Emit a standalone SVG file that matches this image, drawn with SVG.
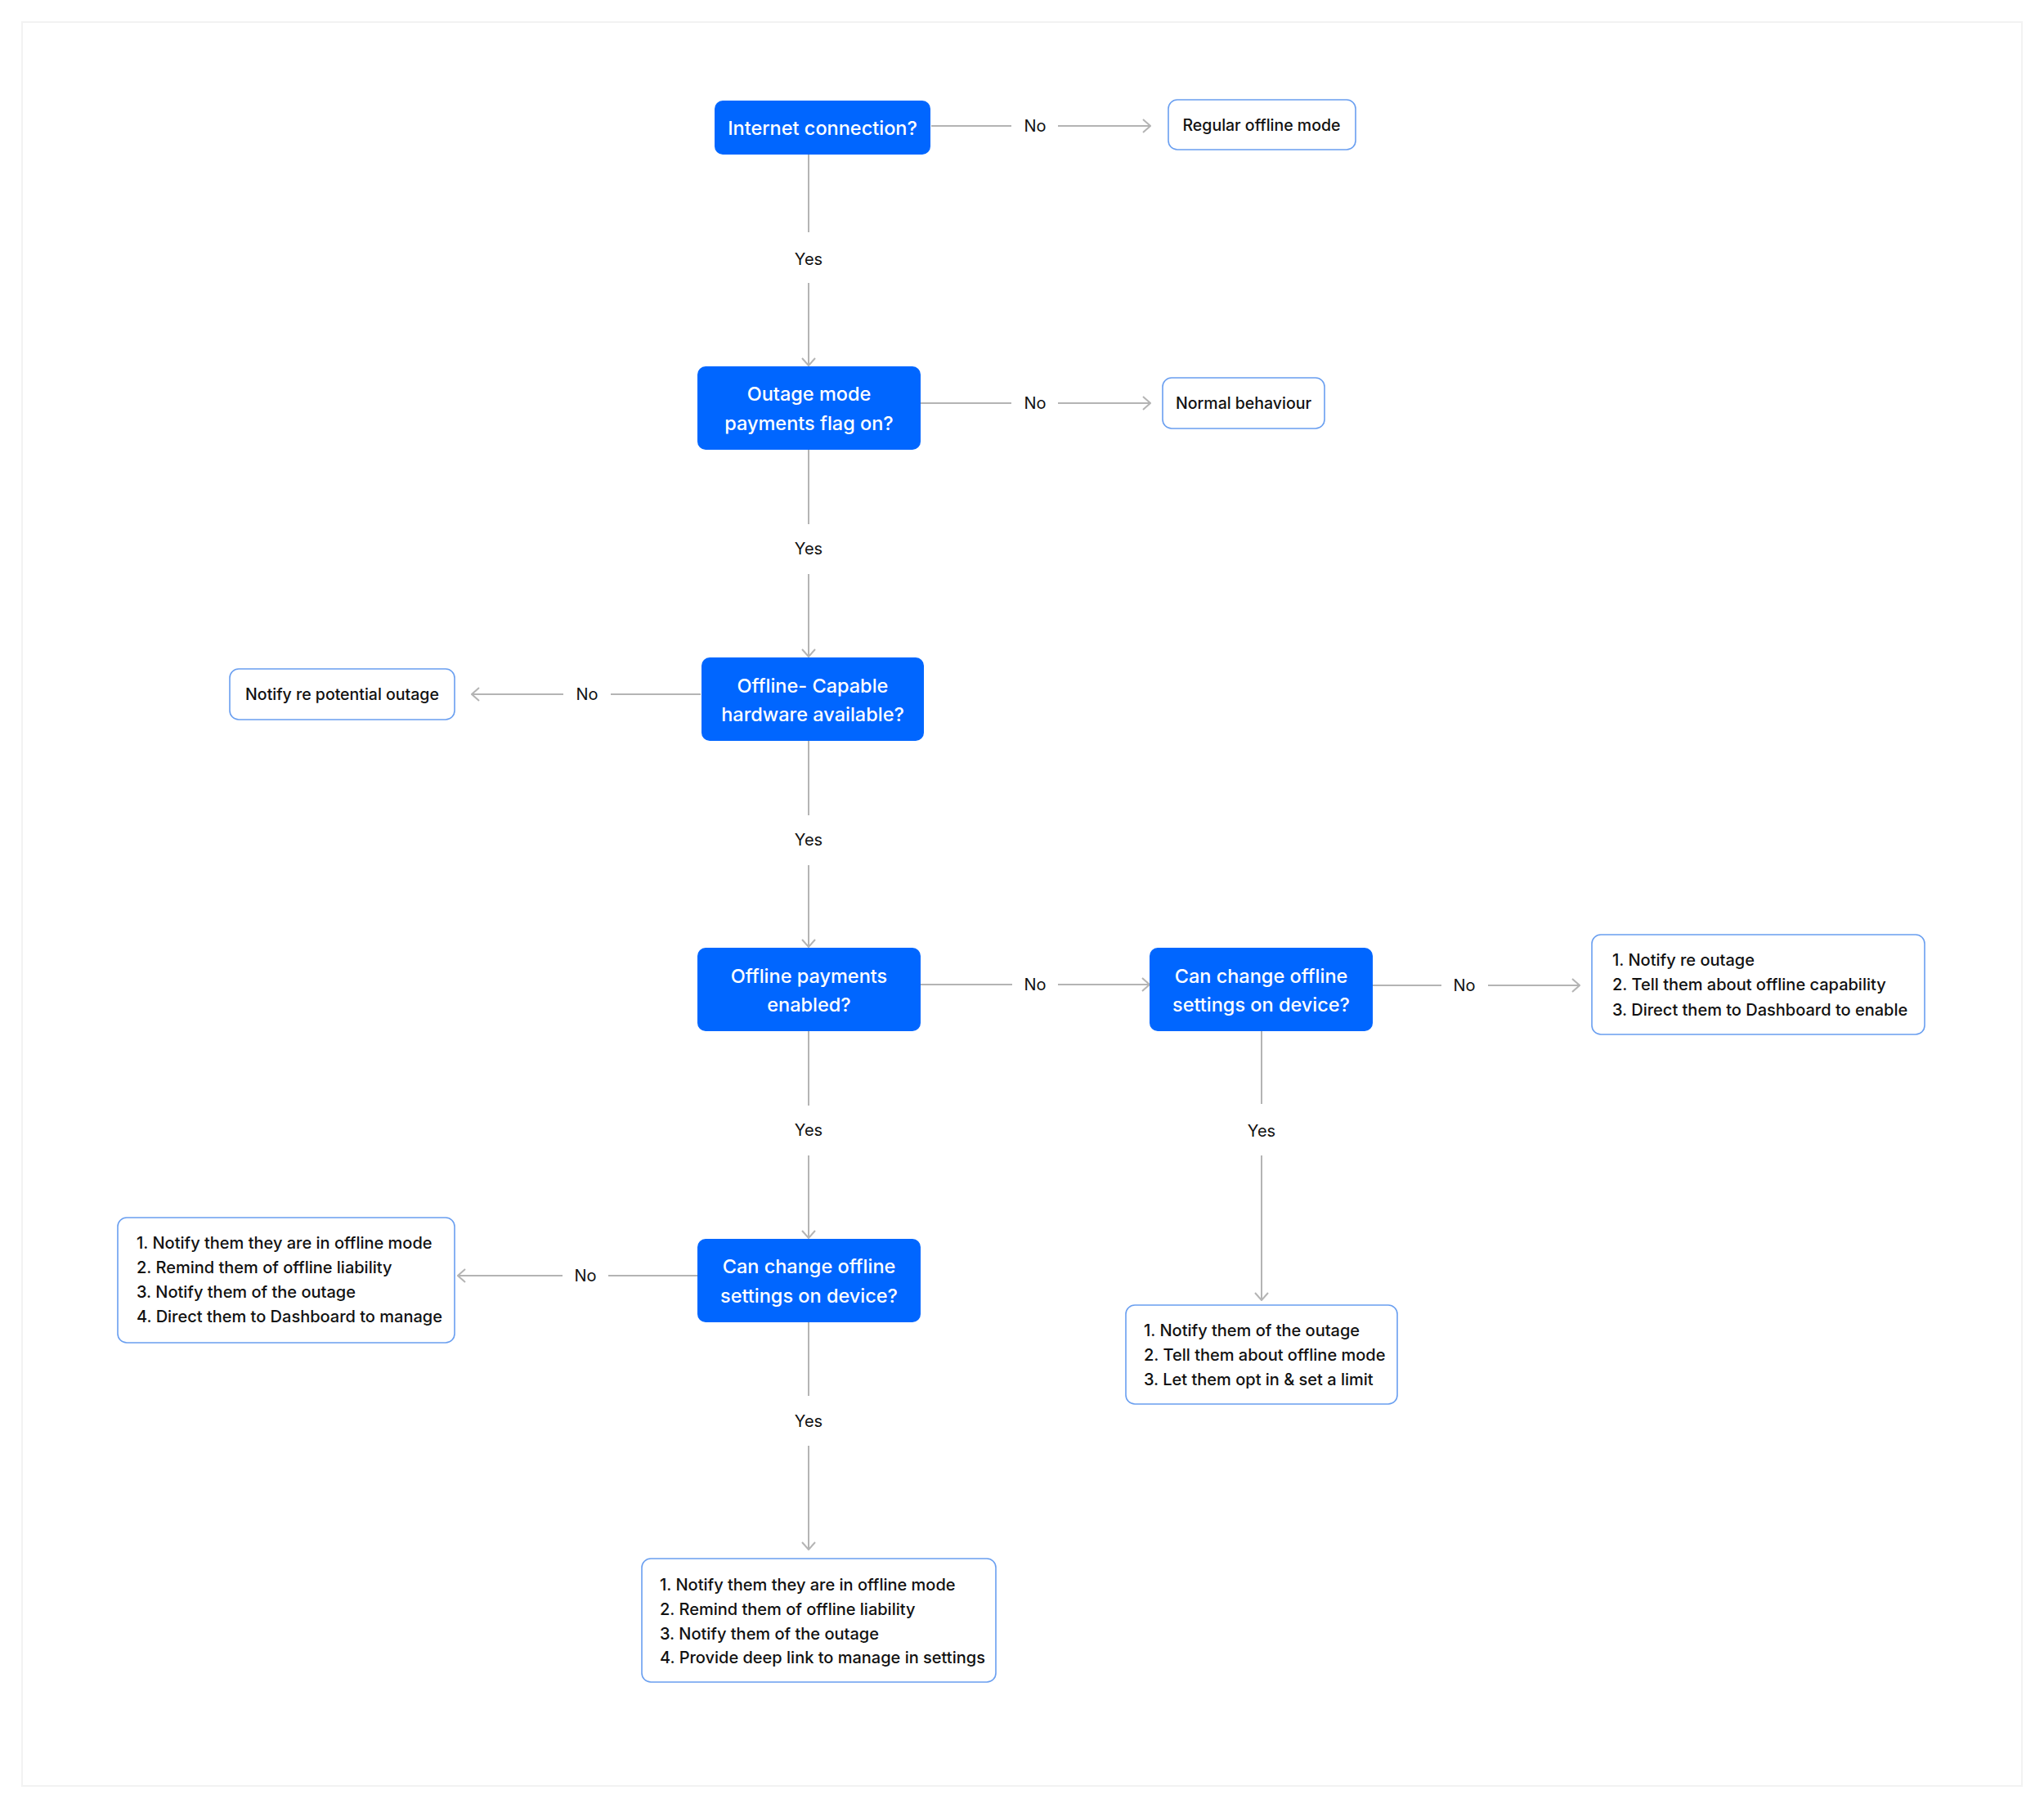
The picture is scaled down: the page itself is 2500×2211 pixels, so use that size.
<svg xmlns="http://www.w3.org/2000/svg" width="2500" height="2211" viewBox="0 0 2500 2211">
<defs>
<style>
.frame{fill:#ffffff;stroke:#f2f2f2;stroke-width:2}
.dec rect{fill:#0066ff}
.dec text{fill:#ffffff;font-family:Inter,"Noto Sans",sans-serif;font-weight:500;font-size:23.5px;text-anchor:middle;dominant-baseline:central}
.out rect{fill:#ffffff;stroke:#6a9ff0;stroke-width:1.6}
.out text{fill:#111111;font-family:Inter,"Noto Sans",sans-serif;font-weight:500;font-size:20px;dominant-baseline:central}
.out text.c{text-anchor:middle;font-size:19.5px}
.edge{stroke:#b4b4b4;stroke-width:2;fill:none}
.lbl{fill:#111111;font-family:Inter,"Noto Sans",sans-serif;font-weight:400;font-size:20px;text-anchor:middle;dominant-baseline:central}
</style>
<marker id="arr" viewBox="0 0 12 18" refX="11" refY="9" markerWidth="12" markerHeight="18" markerUnits="userSpaceOnUse" orient="auto">
<path d="M2,1 L11,9 L2,17" fill="none" stroke="#b4b4b4" stroke-width="2"/>
</marker>
</defs>
<rect class="frame" x="27" y="27" width="2446" height="2157"/>

<g id="connectors">
<path class="edge" d="M1139,154 H1237"/><path class="edge" d="M1294,154 H1407" marker-end="url(#arr)"/>
<text class="lbl" x="1266" y="154">No</text>
<path class="edge" d="M989,189 V284"/><path class="edge" d="M989,346 V447" marker-end="url(#arr)"/>
<text class="lbl" x="989" y="317">Yes</text>
<path class="edge" d="M1126,493 H1237"/><path class="edge" d="M1294,493 H1407" marker-end="url(#arr)"/>
<text class="lbl" x="1266" y="493">No</text>
<path class="edge" d="M989,550 V641"/><path class="edge" d="M989,702 V803" marker-end="url(#arr)"/>
<text class="lbl" x="989" y="671">Yes</text>
<path class="edge" d="M857,849 H747"/><path class="edge" d="M689,849 H577" marker-end="url(#arr)"/>
<text class="lbl" x="718" y="849">No</text>
<path class="edge" d="M989,906 V997"/><path class="edge" d="M989,1058 V1158" marker-end="url(#arr)"/>
<text class="lbl" x="989" y="1027">Yes</text>
<path class="edge" d="M1126,1204 H1238"/><path class="edge" d="M1294,1204 H1406" marker-end="url(#arr)"/>
<text class="lbl" x="1266" y="1204">No</text>
<path class="edge" d="M1679,1205 H1763"/><path class="edge" d="M1820,1205 H1932" marker-end="url(#arr)"/>
<text class="lbl" x="1791" y="1205">No</text>
<path class="edge" d="M1543,1261 V1350"/><path class="edge" d="M1543,1413 V1590" marker-end="url(#arr)"/>
<text class="lbl" x="1543" y="1383">Yes</text>
<path class="edge" d="M989,1261 V1352"/><path class="edge" d="M989,1413 V1514" marker-end="url(#arr)"/>
<text class="lbl" x="989" y="1382">Yes</text>
<path class="edge" d="M853,1560 H744"/><path class="edge" d="M688,1560 H560" marker-end="url(#arr)"/>
<text class="lbl" x="716" y="1560">No</text>
<path class="edge" d="M989,1617 V1707"/><path class="edge" d="M989,1768 V1895" marker-end="url(#arr)"/>
<text class="lbl" x="989" y="1738">Yes</text>
</g>

<g id="n-internet" class="dec">
<rect x="874" y="123" width="264" height="66" rx="10"/>
<text x="1006" y="156">Internet connection?</text>
</g>
<g id="n-regular" class="out">
<rect x="1429" y="122" width="229" height="61" rx="11"/>
<text class="c" x="1543" y="153">Regular offline mode</text>
</g>
<g id="n-outage" class="dec">
<rect x="853" y="448" width="273" height="102" rx="10"/>
<text x="989.5" y="481">Outage mode</text>
<text x="989.5" y="517">payments flag on?</text>
</g>
<g id="n-normal" class="out">
<rect x="1422" y="462" width="198" height="62" rx="11"/>
<text class="c" x="1521" y="493">Normal behaviour</text>
</g>
<g id="n-hardware" class="dec">
<rect x="858" y="804" width="272" height="102" rx="10"/>
<text x="994" y="838">Offline- Capable</text>
<text x="994" y="873">hardware available?</text>
</g>
<g id="n-notify-potential" class="out">
<rect x="281" y="818" width="275" height="62" rx="11"/>
<text class="c" x="418.5" y="849">Notify re potential outage</text>
</g>
<g id="n-enabled" class="dec">
<rect x="853" y="1159" width="273" height="102" rx="10"/>
<text x="989.5" y="1193">Offline payments</text>
<text x="989.5" y="1228">enabled?</text>
</g>
<g id="n-change-right" class="dec">
<rect x="1406" y="1159" width="273" height="102" rx="10"/>
<text x="1542.5" y="1193">Can change offline</text>
<text x="1542.5" y="1228">settings on device?</text>
</g>
<g id="n-list-enable" class="out">
<rect x="1947" y="1143" width="407" height="122" rx="11"/>
<text x="1972" y="1174">1. Notify re outage</text>
<text x="1972" y="1204">2. Tell them about offline capability</text>
<text x="1972" y="1235">3. Direct them to Dashboard to enable</text>
</g>
<g id="n-change-lower" class="dec">
<rect x="853" y="1515" width="273" height="102" rx="10"/>
<text x="989.5" y="1548">Can change offline</text>
<text x="989.5" y="1584">settings on device?</text>
</g>
<g id="n-list-manage" class="out">
<rect x="144" y="1489" width="412" height="153" rx="11"/>
<text x="167" y="1520">1. Notify them they are in offline mode</text>
<text x="167" y="1550">2. Remind them of offline liability</text>
<text x="167" y="1580">3. Notify them of the outage</text>
<text x="167" y="1610">4. Direct them to Dashboard to manage</text>
</g>
<g id="n-list-optin" class="out">
<rect x="1377" y="1596" width="332" height="121" rx="11"/>
<text x="1399" y="1627">1. Notify them of the outage</text>
<text x="1399" y="1657">2. Tell them about offline mode</text>
<text x="1399" y="1687">3. Let them opt in &amp; set a limit</text>
</g>
<g id="n-list-deeplink" class="out">
<rect x="785" y="1906" width="433" height="151" rx="11"/>
<text x="807" y="1938">1. Notify them they are in offline mode</text>
<text x="807" y="1968">2. Remind them of offline liability</text>
<text x="807" y="1998">3. Notify them of the outage</text>
<text x="807" y="2027">4. Provide deep link to manage in settings</text>
</g>
</svg>
